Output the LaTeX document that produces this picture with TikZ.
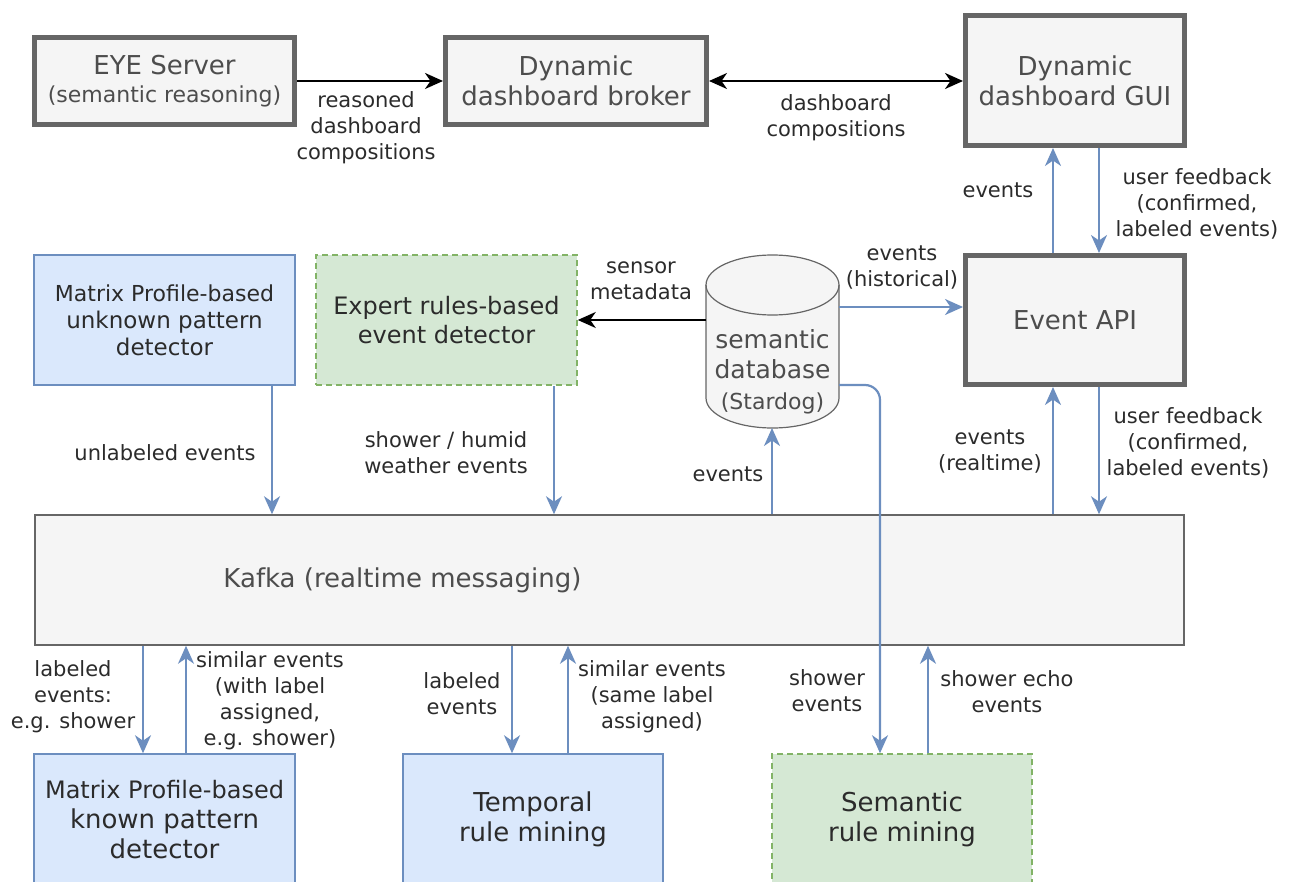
\documentclass[tikz,border=0pt]{standalone}
\usepackage{fontspec}
\setmainfont{DejaVu Sans}
\usetikzlibrary{arrows.meta,calc}
\definecolor{grayfill}{HTML}{F5F5F5}
\definecolor{grayline}{HTML}{666666}
\definecolor{bluefill}{HTML}{DAE8FC}
\definecolor{blueline}{HTML}{6C8EBF}
\definecolor{greenfill}{HTML}{D5E8D4}
\definecolor{greenline}{HTML}{82B366}
\definecolor{boxtxt}{HTML}{4D4D4D}
\definecolor{txt}{HTML}{2B2B2B}
\begin{document}
\begin{tikzpicture}[x=1pt,y=-1pt,
  thickbox/.style={draw=grayline, line width=5pt, fill=grayfill, text=boxtxt, align=center, inner sep=0pt,
     font=\fontsize{26}{30}\selectfont},
  thinbox/.style={draw=grayline, line width=1.5pt, fill=grayfill, inner sep=0pt},
  bluebox/.style={draw=blueline, line width=1.5pt, fill=bluefill, text=txt, align=center, inner sep=0pt,
     font=\fontsize{26}{30}\selectfont},
  greenbox/.style={draw=greenline, line width=1.5pt, dash pattern=on 6pt off 4pt, fill=greenfill, text=txt,
     align=center, inner sep=0pt, font=\fontsize{26}{30}\selectfont},
  lbl/.style={text=txt, align=center, inner sep=0pt, font=\fontsize{21}{26}\selectfont},
  barrow/.style={draw=blueline, line width=2.2pt, -{Stealth[length=18pt,width=16pt,inset=5.5pt]}},
  karrow/.style={draw=black, line width=2.2pt, -{Stealth[length=18pt,width=16pt,inset=5.5pt]}},
  karrowboth/.style={draw=black, line width=2.2pt, {Stealth[length=18pt,width=16pt,inset=5.5pt]}-{Stealth[length=18pt,width=16pt,inset=5.5pt]}},
]
\useasboundingbox (0,0) rectangle (1289,882);

% top row
\node[thickbox, minimum width=260pt, minimum height=87pt] (eye) at (164.5,81)
  {EYE Server\\[-2pt]{\fontsize{22}{26}\selectfont (semantic reasoning)}};
\node[thickbox, minimum width=261pt, minimum height=87pt] (broker) at (576,81)
  {Dynamic\\dashboard broker};
\node[thickbox, minimum width=219pt, minimum height=130pt] (gui) at (1075,80.5)
  {Dynamic\\dashboard GUI};
\node[thickbox, minimum width=219pt, minimum height=129pt] (api) at (1075,320)
  {Event API};

% middle row
\node[bluebox, minimum width=261pt, minimum height=130pt, font=\fontsize{23}{27}\selectfont] (unknown) at (164.5,320)
  {{\fontsize{22}{27}\selectfont Matrix Profile-based}\\unknown pattern\\detector};
\node[greenbox, minimum width=261pt, minimum height=130pt, font=\fontsize{24}{29}\selectfont] (expert) at (446.5,320)
  {Expert rules-based\\event detector};

% database cylinder
\node[minimum width=133pt, minimum height=173pt, inner sep=0pt, outer sep=0pt] (db) at (772.5,341.5) {};
\filldraw[fill=grayfill, draw=grayline, line width=1.2pt]
  (706,285) -- (706,398) arc[start angle=180, end angle=360, x radius=66.5pt, y radius=30pt]
  -- (839,285) arc[start angle=0, end angle=180, x radius=66.5pt, y radius=30pt] -- cycle;
\draw[grayline, line width=1.2pt] (706,285) arc[start angle=180, end angle=360, x radius=66.5pt, y radius=30pt];
\node[text=boxtxt, align=center, inner sep=0pt, font=\fontsize{25}{30}\selectfont] (dbtext) at (772.5,372)
  {semantic\\database\\[1pt]{\fontsize{22}{26}\selectfont (Stardog)}};

% Kafka
\node[thinbox, minimum width=1149pt, minimum height=130pt] (kafka) at (609.5,580) {};
\node[text=boxtxt, inner sep=0pt, font=\fontsize{26}{30}\selectfont] (kafkatext) at (402.5,580) {Kafka (realtime messaging)};

% bottom row
\node[bluebox, minimum width=261pt, minimum height=131pt] (known) at (164.5,819.5)
  {{\fontsize{24}{30}\selectfont Matrix Profile-based}\\known pattern\\detector};
\node[bluebox, minimum width=260pt, minimum height=131pt] (temporal) at (533,819.5)
  {Temporal\\rule mining};
\node[greenbox, minimum width=260pt, minimum height=131pt] (semrule) at (902,819.5)
  {Semantic\\rule mining};

% black connectors
\draw[karrow] (eye.east) -- (broker.west);
\draw[karrowboth] (broker.east) -- (gui.west |- broker.east);
\draw[karrow] (db.west |- 0,320) -- (expert.east |- 0,320);

% blue connectors
\draw[barrow] (api.north -| 1053,0) -- (gui.south -| 1053,0);
\draw[barrow] (gui.south -| 1099,0) -- (api.north -| 1099,0);
\draw[barrow] (db.east |- 0,307) -- (api.west |- 0,307);
\draw[barrow] (kafka.north -| 772,0) -- (db.south -| 772,0);
\draw[barrow] (kafka.north -| 1053,0) -- (api.south -| 1053,0);
\draw[barrow] (api.south -| 1099,0) -- (kafka.north -| 1099,0);
\draw[barrow] (unknown.south -| 272,0) -- (kafka.north -| 272,0);
\draw[barrow] (expert.south -| 554,0) -- (kafka.north -| 554,0);
\draw[barrow] (kafka.south -| 143,0) -- (known.north -| 143,0);
\draw[barrow] (known.north -| 186,0) -- (kafka.south -| 186,0);
\draw[barrow] (kafka.south -| 512,0) -- (temporal.north -| 512,0);
\draw[barrow] (temporal.north -| 568,0) -- (kafka.south -| 568,0);
\draw[barrow, rounded corners=15pt] (db.east |- 0,385) -- (880,385) -- (semrule.north -| 880,0);
\draw[barrow] (semrule.north -| 928,0) -- (kafka.south -| 928,0);

% labels
\node[lbl] (l1) at (366,128) {reasoned\\dashboard\\compositions};
\node[lbl] (l2) at (836,118) {dashboard\\compositions};
\node[lbl] (l3) at (998,190) {events};
\node[lbl] (l4) at (1197,204) {user feedback\\(confirmed,\\labeled events)};
\node[lbl] (l5) at (641,281) {sensor\\metadata};
\node[lbl] (l6) at (902,268) {events\\(historical)};
\node[lbl] (l7) at (728,474) {events};
\node[lbl] (l8) at (990,452) {events\\(realtime)};
\node[lbl] (l9) at (1188,443) {user feedback\\(confirmed,\\labeled events)};
\node[lbl] (l10) at (165,453) {unlabeled events};
\node[lbl] (l11) at (446,453) {shower / humid\\weather events};
\node[lbl] (l12) at (73,697) {labeled\\events:\\e.g. shower};
\node[lbl] (l13) at (270,701) {similar events\\(with label\\assigned,\\e.g. shower)};
\node[lbl] (l14) at (462,694) {labeled\\events};
\node[lbl] (l15) at (652,697) {similar events\\(same label\\assigned)};
\node[lbl] (l16) at (827,691) {shower\\events};
\node[lbl] (l17) at (1007,692) {shower echo\\events};
\end{tikzpicture}
\end{document}
